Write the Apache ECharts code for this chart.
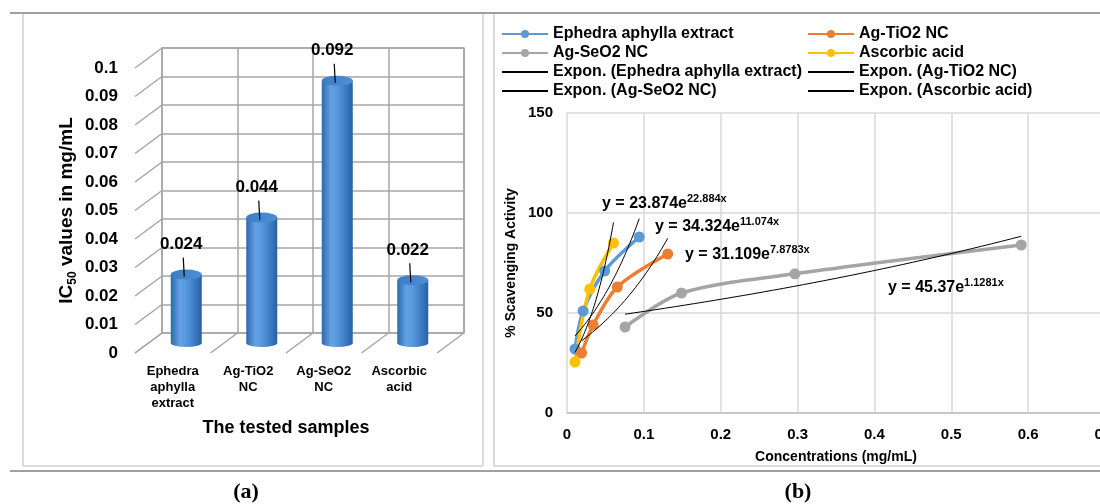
<!DOCTYPE html>
<html><head><meta charset="utf-8">
<script src="https://cdn.jsdelivr.net/npm/echarts@6/dist/echarts.min.js"></script>
<style>html,body{margin:0;padding:0;background:#fff}#c{width:1100px;height:504px}</style>
</head><body><div id="c"></div>
<script>
// ---------- (a) IC50 bar chart ----------
const sampleCategories = ['Ephedra\naphylla\nextract', 'Ag-TiO2\nNC', 'Ag-SeO2\nNC', 'Ascorbic\nacid'];
const ic50Values = [0.024, 0.044, 0.092, 0.022];
const ic50Ticks = [0, 0.01, 0.02, 0.03, 0.04, 0.05, 0.06, 0.07, 0.08, 0.09, 0.1];

// ---------- (b) scavenging activity ----------
const seriesNames = ['Ephedra aphylla extract', 'Ag-TiO2 NC', 'Ag-SeO2 NC', 'Ascorbic acid'];
const ephedraConc = [0.0104, 0.021, 0.049, 0.094];
const ephedraAct = [32, 51, 71, 88];
const agTiO2Conc = [0.019, 0.034, 0.0655, 0.131];
const agTiO2Act = [30, 44, 63, 79.5];
const agSeO2Conc = [0.0755, 0.149, 0.2965, 0.591];
const agSeO2Act = [43, 60, 69.6, 84];
const ascorbicConc = [0.0104, 0.0296, 0.0605];
const ascorbicAct = [25.5, 62, 85];
// exponential trendline coefficients as printed on the chart: y = a * e^(b x)
const trendA = [34.324, 31.109, 45.37, 23.874];
const trendB = [11.074, 7.8783, 1.1281, 22.884];
const trendLabels = ['y = 34.324e', 'y = 31.109e', 'y = 45.37e', 'y = 23.874e'];
const trendExps = ['11.074x', '7.8783x', '1.1281x', '22.884x'];

const FONT = '"Liberation Sans", Arial, sans-serif';
const colors = ['#5b9bd5', '#ed7d31', '#a5a5a5', '#ffc000'];
const concs = [ephedraConc, agTiO2Conc, agSeO2Conc, ascorbicConc];
const acts = [ephedraAct, agTiO2Act, agSeO2Act, ascorbicAct];

function pairs(xs, ys) { return xs.map((x, i) => [x, ys[i]]); }
function trendPoints(xs, a, b) {
  const lo = Math.min(...xs), hi = Math.max(...xs), pts = [];
  for (let i = 0; i <= 40; i++) { const x = lo + (hi - lo) * i / 40; pts.push([x, a * Math.exp(b * x)]); }
  return pts;
}

const DEPTH = [27, -20];
const chart = echarts.init(document.getElementById('c'), null, {renderer: 'canvas'});

const series = [];
// side-wall diagonals at each tick (front grid)
series.push({
  type: 'custom', xAxisIndex: 0, yAxisIndex: 0, silent: true, clip: false,
  data: ic50Ticks.map(v => [0, v]),
  renderItem(params, api) {
    const p = api.coord([0, api.value(1)]);
    const band = api.size([1, 0])[0];
    const x0 = p[0] - band / 2;
    return {type: 'line', shape: {x1: x0, y1: p[1], x2: x0 + DEPTH[0], y2: p[1] + DEPTH[1]},
      style: {stroke: '#a6a6a6', lineWidth: 1.5}};
  }
});
// floor diagonals at category boundaries
series.push({
  type: 'custom', xAxisIndex: 0, yAxisIndex: 0, silent: true, clip: false,
  dimensions: ['x', 'y', 'k'],
  data: [0, 1, 2, 3, 4].map(k => [0, 0, k]),
  renderItem(params, api) {
    const p = api.coord([0, 0]);
    const band = api.size([1, 0])[0];
    const x0 = p[0] - band / 2 + band * api.value(2);
    return {type: 'line', shape: {x1: x0, y1: p[1], x2: x0 + DEPTH[0], y2: p[1] + DEPTH[1]},
      style: {stroke: '#a6a6a6', lineWidth: 1.5}};
  }
});
// cylinders
series.push({
  type: 'custom', xAxisIndex: 2, yAxisIndex: 2, clip: false,
  data: ic50Values.map((v, i) => [i, v]),
  renderItem(params, api) {
    const top = api.coord([api.value(0), api.value(1)]);
    const base = api.coord([api.value(0), 0]);
    const w = 31, rx = w / 2, ryT = 5, ryB = 4;
    const cx = top[0];
    const bodyFill = new echarts.graphic.LinearGradient(0, 0, 1, 0, [
      {offset: 0, color: '#2d69ad'}, {offset: 0.3, color: '#62a2e3'},
      {offset: 0.5, color: '#5798dd'}, {offset: 0.85, color: '#3573bb'}, {offset: 1, color: '#2a5f9e'}]);
    const topFill = new echarts.graphic.LinearGradient(0, 0, 1, 0, [
      {offset: 0, color: '#3b7cc4'}, {offset: 1, color: '#4f8fd3'}]);
    return {type: 'group', children: [
      {type: 'circle', shape: {cx: 0, cy: 0, r: rx}, x: cx, y: base[1], scaleY: ryB / rx, style: {fill: bodyFill}},
      {type: 'rect', shape: {x: cx - rx, y: top[1], width: w, height: base[1] - top[1]}, style: {fill: bodyFill}},
      {type: 'circle', shape: {cx: 0, cy: 0, r: rx}, x: cx, y: top[1], scaleY: ryT / rx, style: {fill: topFill}},
      {type: 'line', shape: {x1: cx - 3, y1: top[1] - 17, x2: cx - 2, y2: top[1] + 2}, style: {stroke: '#000', lineWidth: 1.2}},
      {type: 'text', x: cx - 5, y: top[1] - 30, style: {text: String(api.value(1)), font: 'bold 17px ' + FONT,
        fill: '#000', align: 'center', verticalAlign: 'middle'}}
    ]};
  }
});

// (b) data series
seriesNames.forEach((n, i) => {
  series.push({
    name: n, type: 'line', xAxisIndex: 3, yAxisIndex: 3, data: pairs(concs[i], acts[i]),
    smooth: 0.3, symbol: 'circle', symbolSize: 11, showSymbol: true,
    lineStyle: {color: colors[i], width: 3.5}, itemStyle: {color: colors[i]}, z: 3
  });
});
seriesNames.forEach((n, i) => {
  series.push({
    name: 'Expon. (' + n + ')', type: 'line', xAxisIndex: 3, yAxisIndex: 3,
    data: trendPoints(concs[i], trendA[i], trendB[i]), symbol: 'none', smooth: false,
    lineStyle: {color: '#000', width: 1}, itemStyle: {color: '#000', opacity: 0}, z: 4
  });
});

const eqPos = [[655, 227], [685, 255], [888, 288], [602, 204]];
const eqGraphics = trendLabels.map((t, i) => ({
  type: 'text', x: eqPos[i][0], y: eqPos[i][1], z: 10,
  style: {
    text: '{m|' + t + '}{s|' + trendExps[i] + '}',
    verticalAlign: 'middle',
    rich: {
      m: {fontSize: 16, fontWeight: 'bold', fontFamily: FONT, fill: '#000', lineHeight: 22},
      s: {fontSize: 11, fontWeight: 'bold', fontFamily: FONT, fill: '#000', lineHeight: 12, verticalAlign: 'top'}
    }
  }
}));

const legendText = {fontSize: 16, fontWeight: 'bold', fontFamily: FONT, color: '#000', lineHeight: 16};
function trendItem(n) { return {name: 'Expon. (' + n + ')', itemStyle: {opacity: 0}}; }
const option = {
  animation: false,
  backgroundColor: '#fff',
  textStyle: {fontFamily: FONT},
  legend: [
    {left: 496, top: 21, orient: 'vertical', itemWidth: 46, itemHeight: 10, itemGap: 3,
      data: [seriesNames[0], seriesNames[2], trendItem(seriesNames[0]), trendItem(seriesNames[2])],
      textStyle: legendText, selectedMode: false},
    {left: 802, top: 21, orient: 'vertical', itemWidth: 46, itemHeight: 10, itemGap: 3,
      data: [seriesNames[1], seriesNames[3], trendItem(seriesNames[1]), trendItem(seriesNames[3])],
      textStyle: legendText, selectedMode: false}
  ],
  grid: [
    {left: 135, top: 68, width: 302, height: 285, outerBoundsMode: 'none'},
    {left: 162, top: 48, width: 302, height: 285, show: true, borderColor: '#a6a6a6', borderWidth: 1.5, outerBoundsMode: 'none'},
    {left: 148.5, top: 58, width: 302, height: 285, outerBoundsMode: 'none'},
    {left: 567, top: 113, width: 538, height: 300, outerBoundsMode: 'none'}
  ],
  xAxis: [
    {gridIndex: 0, type: 'category', data: sampleCategories, axisLine: {show: false}, axisTick: {show: false},
      axisLabel: {interval: 0, fontSize: 13, fontWeight: 'bold', color: '#000', lineHeight: 16, margin: 10},
      name: 'The tested samples', nameLocation: 'middle', nameGap: 66,
      nameTextStyle: {fontSize: 18, fontWeight: 'bold', color: '#000'}},
    {gridIndex: 1, type: 'category', data: sampleCategories, axisLine: {show: false}, axisTick: {show: false},
      axisLabel: {show: false}, splitLine: {show: true, interval: 0, lineStyle: {color: '#a6a6a6', width: 1.5}}},
    {gridIndex: 2, type: 'category', data: sampleCategories, show: false},
    {gridIndex: 3, type: 'value', min: 0, max: 0.7, interval: 0.1,
      axisLine: {show: true, lineStyle: {color: '#bfbfbf', width: 1.5}}, axisTick: {show: false},
      axisLabel: {fontSize: 15, fontWeight: 'bold', color: '#000', margin: 14},
      splitLine: {show: true, lineStyle: {color: '#d9d9d9', width: 1.5}},
      name: 'Concentrations (mg/mL)', nameLocation: 'middle', nameGap: 37,
      nameTextStyle: {fontSize: 14, fontWeight: 'bold', color: '#000'}}
  ],
  yAxis: [
    {gridIndex: 0, type: 'value', min: 0, max: 0.1, interval: 0.01, axisLine: {show: false}, axisTick: {show: false},
      splitLine: {show: false}, axisLabel: {fontSize: 17, fontWeight: 'bold', color: '#000', margin: 17},
      name: '{n|IC}{sub|50}{n| values in mg/mL}', nameLocation: 'middle', nameGap: 56,
      nameTextStyle: {rich: {
        n: {fontSize: 19, fontWeight: 'bold', color: '#000', fontFamily: FONT, lineHeight: 24},
        sub: {fontSize: 12, fontWeight: 'bold', color: '#000', fontFamily: FONT, lineHeight: 13, verticalAlign: 'bottom'}
      }}},
    {gridIndex: 1, type: 'value', min: 0, max: 0.1, interval: 0.01, axisLine: {show: false}, axisTick: {show: false},
      axisLabel: {show: false}, splitLine: {show: true, lineStyle: {color: '#a6a6a6', width: 1.5}}},
    {gridIndex: 2, type: 'value', min: 0, max: 0.1, show: false},
    {gridIndex: 3, type: 'value', min: 0, max: 150, interval: 50,
      axisLine: {show: false}, axisTick: {show: false},
      axisLabel: {fontSize: 15, fontWeight: 'bold', color: '#000', margin: 14},
      splitLine: {show: true, lineStyle: {color: '#d9d9d9', width: 1.5}},
      name: '% Scavenging Activity', nameLocation: 'middle', nameGap: 49,
      nameTextStyle: {fontSize: 14, fontWeight: 'bold', color: '#000'}}
  ],
  series: series,
  graphic: [
    {type: 'line', shape: {x1: 10, y1: 13, x2: 1100, y2: 13}, style: {stroke: '#a0a0a0', lineWidth: 2}},
    {type: 'line', shape: {x1: 10, y1: 471, x2: 1100, y2: 471}, style: {stroke: '#a0a0a0', lineWidth: 2}},
    {type: 'line', shape: {x1: 23, y1: 14, x2: 23, y2: 466}, style: {stroke: '#d0d0d0', lineWidth: 1.5}},
    {type: 'line', shape: {x1: 23, y1: 466, x2: 483, y2: 466}, style: {stroke: '#d0d0d0', lineWidth: 1.5}},
    {type: 'line', shape: {x1: 483, y1: 14, x2: 483, y2: 466}, style: {stroke: '#d0d0d0', lineWidth: 1.5}},
    {type: 'line', shape: {x1: 494, y1: 14, x2: 494, y2: 466}, style: {stroke: '#d0d0d0', lineWidth: 1.5}},
    {type: 'line', shape: {x1: 494, y1: 466, x2: 1100, y2: 466}, style: {stroke: '#d0d0d0', lineWidth: 1.5}},
    {type: 'text', x: 246, y: 492, style: {text: '(a)', font: 'bold 22px "Liberation Serif", "DejaVu Serif", serif', fill: '#000', align: 'center', verticalAlign: 'middle'}},
    {type: 'text', x: 798, y: 492, style: {text: '(b)', font: 'bold 22px "Liberation Serif", "DejaVu Serif", serif', fill: '#000', align: 'center', verticalAlign: 'middle'}}
  ].concat(eqGraphics)
};
chart.setOption(option);
</script>
</body></html>
